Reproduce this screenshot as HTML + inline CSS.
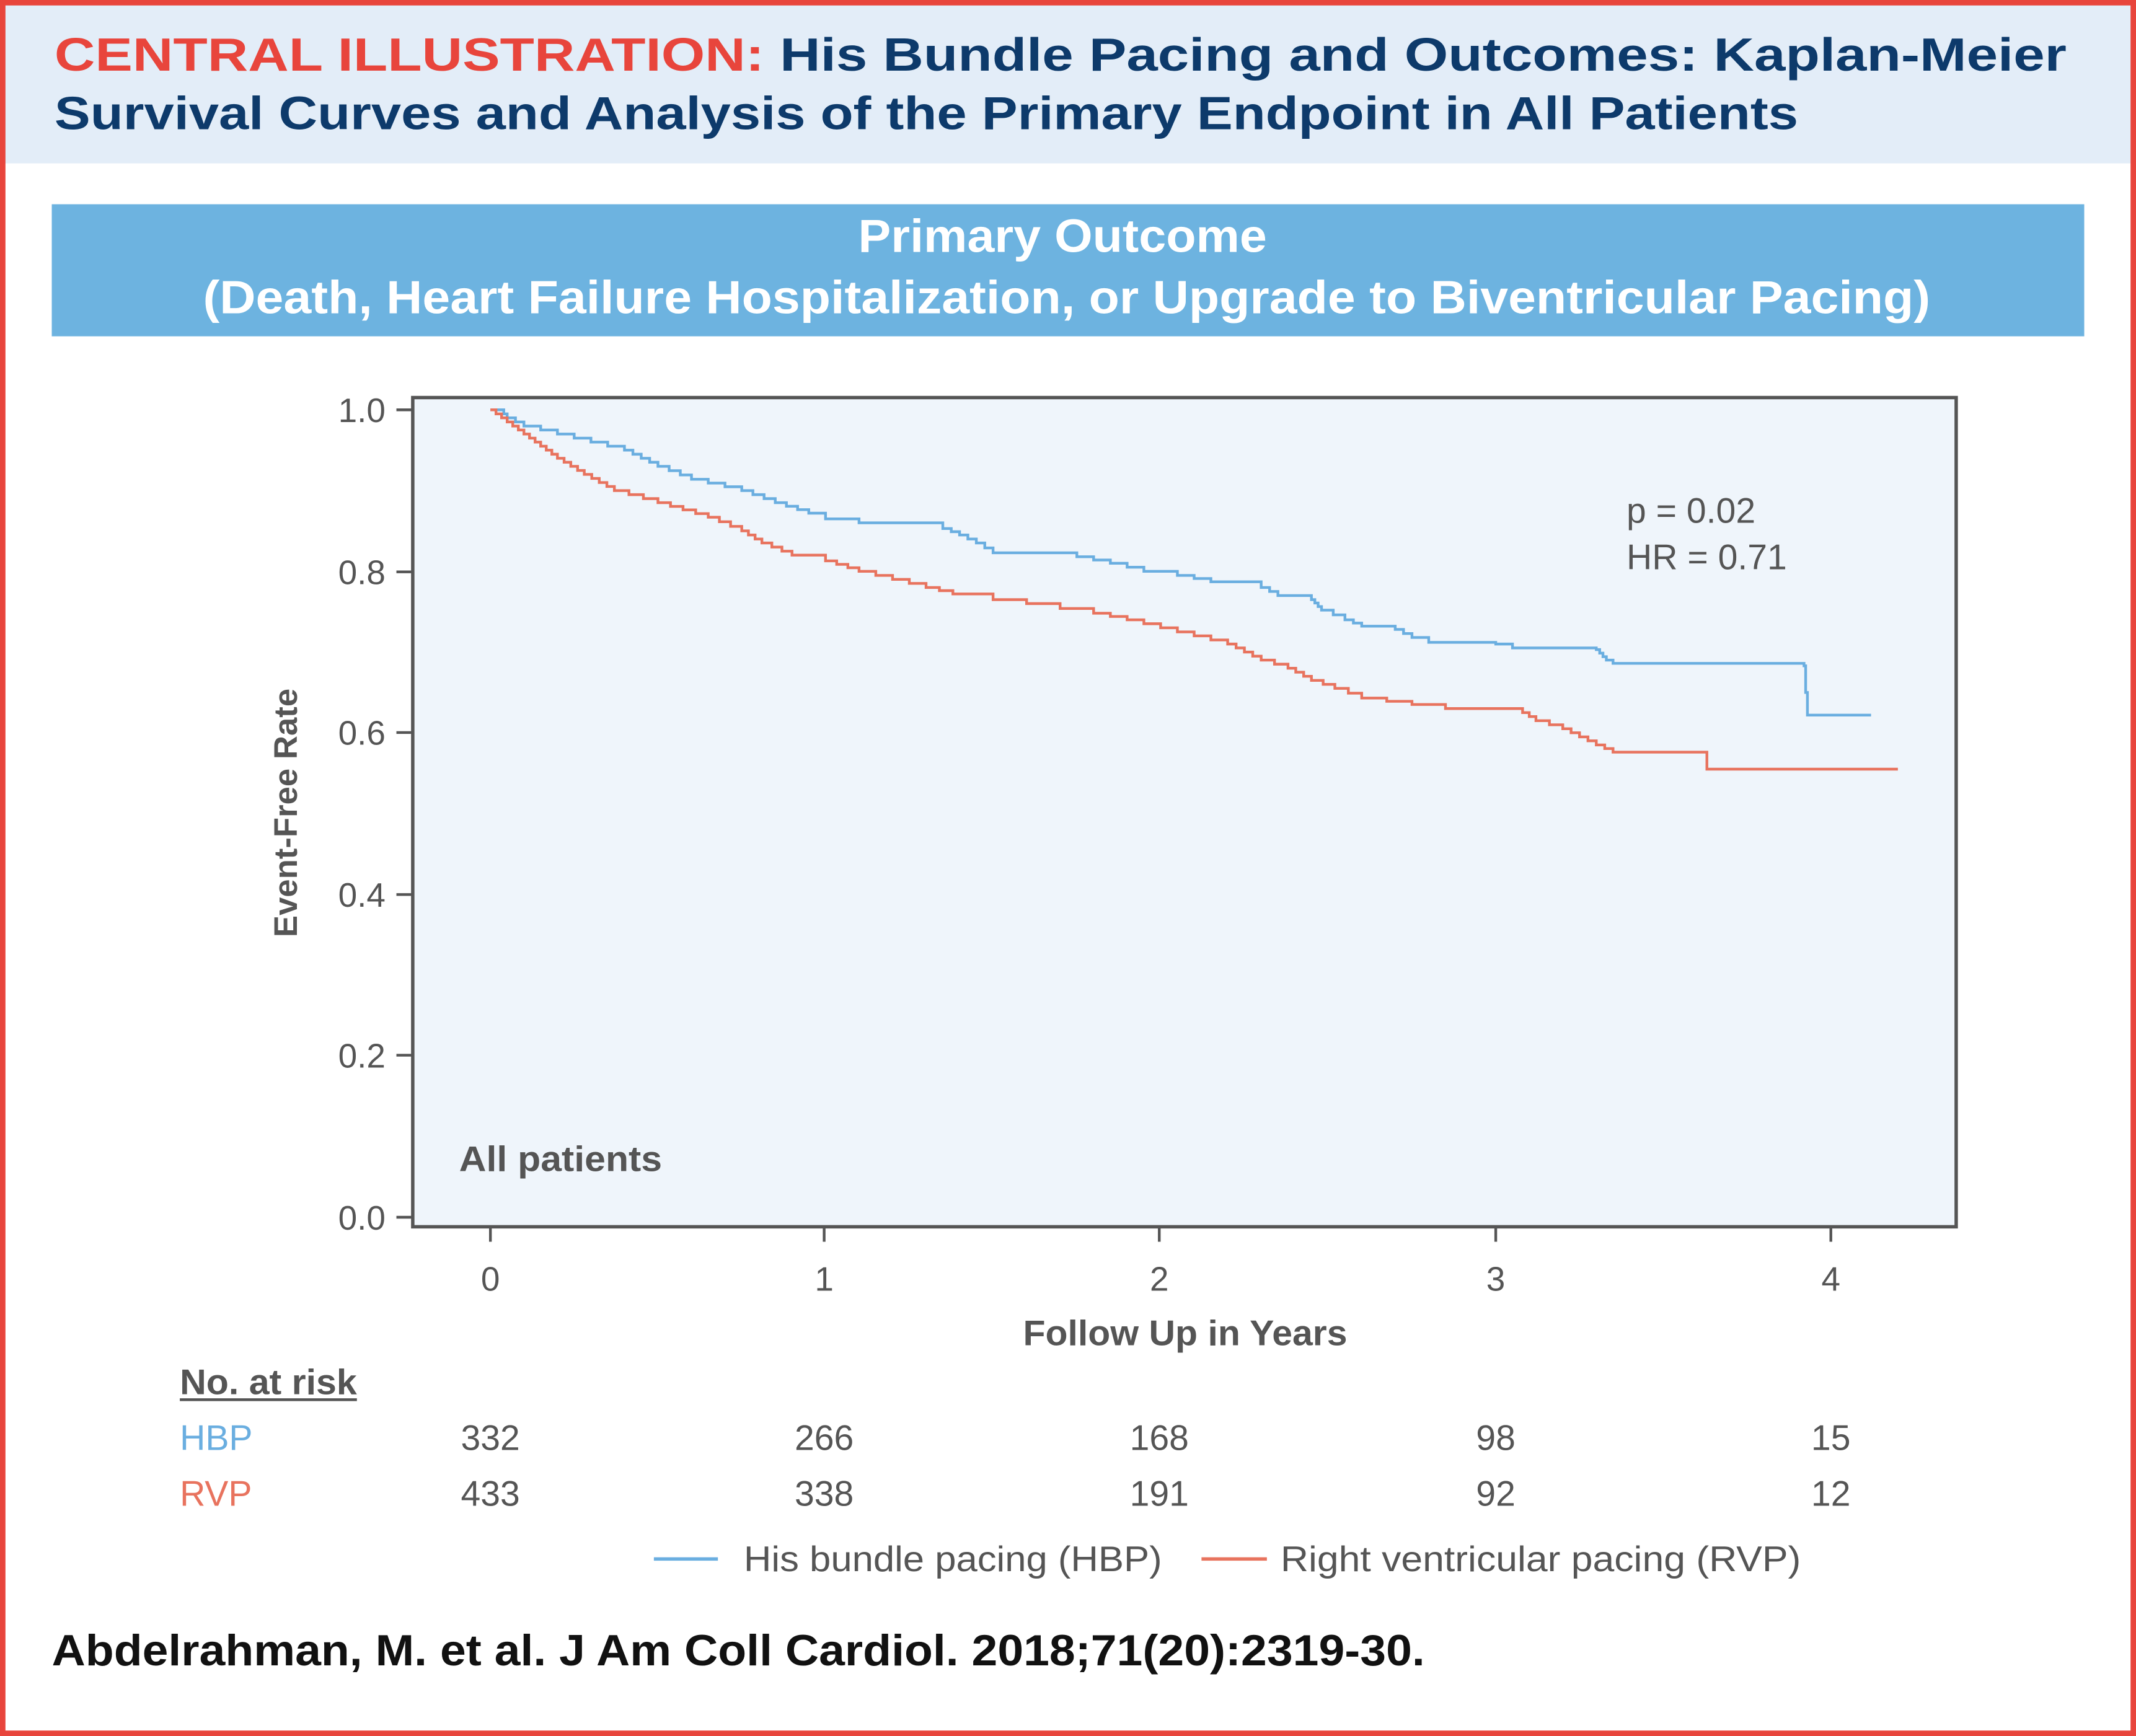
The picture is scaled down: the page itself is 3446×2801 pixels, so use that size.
<!DOCTYPE html>
<html><head><meta charset="utf-8"><style>
html,body{margin:0;padding:0;background:#fff}
svg{display:block}
text{font-family:"Liberation Sans",sans-serif}
</style></head><body>
<svg id="s" width="3446" height="2801" viewBox="0 0 1568 1275" preserveAspectRatio="none" xmlns="http://www.w3.org/2000/svg">
<rect x="0" y="0" width="1568" height="1275" fill="#fff"/>
<rect x="0" y="0" width="1568" height="120" fill="#e3edf8"/>
<rect x="2" y="2" width="1564" height="1271" fill="none" stroke="#e8453c" stroke-width="4"/>
<text x="40" y="52" font-size="34" font-weight="bold" textLength="1477" lengthAdjust="spacingAndGlyphs"><tspan fill="#e8453c">CENTRAL ILLUSTRATION:</tspan><tspan fill="#0d3a6b"> His Bundle Pacing and Outcomes: Kaplan-Meier</tspan></text>
<text x="40" y="95" font-size="34" font-weight="bold" fill="#0d3a6b" textLength="1280" lengthAdjust="spacingAndGlyphs">Survival Curves and Analysis of the Primary Endpoint in All Patients</text>
<rect x="38" y="150" width="1492" height="97" fill="#6db3e0"/>
<text x="780" y="185" font-size="34" font-weight="bold" fill="#fff" text-anchor="middle" textLength="300" lengthAdjust="spacingAndGlyphs">Primary Outcome</text>
<text x="783" y="230" font-size="34" font-weight="bold" fill="#fff" text-anchor="middle" textLength="1268" lengthAdjust="spacingAndGlyphs">(Death, Heart Failure Hospitalization, or  Upgrade to Biventricular Pacing)</text>
<rect x="303" y="292" width="1133" height="609" fill="#eff5fb" stroke="#555" stroke-width="2.5"/>
<g stroke="#555" stroke-width="2">
<line x1="291" y1="301" x2="303" y2="301"/><line x1="291" y1="420" x2="303" y2="420"/><line x1="291" y1="538" x2="303" y2="538"/><line x1="291" y1="657" x2="303" y2="657"/><line x1="291" y1="775" x2="303" y2="775"/><line x1="291" y1="894" x2="303" y2="894"/>
<line x1="360" y1="901" x2="360" y2="912"/><line x1="605" y1="901" x2="605" y2="912"/><line x1="851" y1="901" x2="851" y2="912"/><line x1="1098" y1="901" x2="1098" y2="912"/><line x1="1344" y1="901" x2="1344" y2="912"/>
</g>
<g font-size="25" fill="#555" text-anchor="end">
<text x="283" y="310">1.0</text><text x="283" y="429">0.8</text><text x="283" y="547">0.6</text><text x="283" y="666">0.4</text><text x="283" y="784">0.2</text><text x="283" y="903">0.0</text>
</g>
<g font-size="25" fill="#555" text-anchor="middle">
<text x="360" y="948">0</text><text x="605" y="948">1</text><text x="851" y="948">2</text><text x="1098" y="948">3</text><text x="1344" y="948">4</text>
</g>
<text transform="translate(218,597) rotate(-90)" font-size="24" font-weight="bold" fill="#555" text-anchor="middle">Event-Free Rate</text>
<text x="870" y="988" font-size="26" font-weight="bold" fill="#555" text-anchor="middle" textLength="238" lengthAdjust="spacingAndGlyphs">Follow Up in Years</text>
<text x="1194" y="384" font-size="26" fill="#555">p = 0.02</text>
<text x="1194" y="418" font-size="26" fill="#555">HR = 0.71</text>
<text x="337" y="860" font-size="26" font-weight="bold" fill="#555" textLength="149" lengthAdjust="spacingAndGlyphs">All patients</text>
<path id="hbp" fill="none" stroke="#6aaee0" stroke-width="2"/>
<path id="rvp" fill="none" stroke="#e8735e" stroke-width="2"/>
<text x="132" y="1024" font-size="26" font-weight="bold" fill="#555" textLength="130" lengthAdjust="spacingAndGlyphs">No. at risk</text>
<line x1="132" y1="1028" x2="262" y2="1028" stroke="#555" stroke-width="2"/>
<text x="132" y="1065" font-size="26" fill="#6aaee0">HBP</text>
<text x="132" y="1106" font-size="26" fill="#e8735e">RVP</text>
<g font-size="26" fill="#555" text-anchor="middle">
<text x="360" y="1065">332</text><text x="605" y="1065">266</text><text x="851" y="1065">168</text><text x="1098" y="1065">98</text><text x="1344" y="1065">15</text>
<text x="360" y="1106">433</text><text x="605" y="1106">338</text><text x="851" y="1106">191</text><text x="1098" y="1106">92</text><text x="1344" y="1106">12</text>
</g>
<line x1="480" y1="1145" x2="527" y2="1145" stroke="#6aaee0" stroke-width="2.5"/>
<text x="546" y="1154" font-size="26" fill="#555" textLength="307" lengthAdjust="spacingAndGlyphs">His bundle pacing (HBP)</text>
<line x1="882" y1="1145" x2="930" y2="1145" stroke="#e8735e" stroke-width="2.5"/>
<text x="940" y="1154" font-size="26" fill="#555" textLength="382" lengthAdjust="spacingAndGlyphs">Right ventricular pacing (RVP)</text>
<text x="38" y="1223" font-size="32" font-weight="bold" fill="#111" textLength="1008" lengthAdjust="spacingAndGlyphs">Abdelrahman, M. et al. J Am Coll Cardiol. 2018;71(20):2319-30.</text>
</svg>
<script>
function X(t){return 360+246*t}function Y(s){return 894-593*s}
function build(pts,end){
 var d="M"+X(pts[0][0]).toFixed(1)+" "+Y(pts[0][1]).toFixed(1);
 for(var i=1;i<pts.length;i++){d+=" H"+X(pts[i][0]).toFixed(1)+" V"+Y(pts[i][1]).toFixed(1);}
 d+=" H"+X(end).toFixed(1);return d;}
function fine(pts){var o=[pts[0]];for(var i=1;i<pts.length;i++){var a=pts[i-1],b=pts[i];var n=Math.max(1,Math.round((a[1]-b[1])/0.005));if(b[1]<a[1]-0.03)n=1;for(var k=1;k<=n;k++){o.push([a[0]+(b[0]-a[0])*k/n,a[1]+(b[1]-a[1])*k/n]);}}return o;}
var h=[[0,1],[.03,1],[.05,.99],[.1,.98],[.2,.97],[.3,.96],[.4,.95],[.5,.93],[.6,.914],[.75,.9],[.85,.885],[.95,.872],[1.0,.865],[1.1,.86],[1.35,.853],[1.4,.845],[1.45,.835],[1.5,.823],[1.75,.818],[1.85,.81],[1.95,.8],[2.05,.795],[2.15,.787],[2.3,.78],[2.35,.77],[2.45,.765],[2.48,.752],[2.55,.74],[2.6,.732],[2.7,.728],[2.75,.718],[2.8,.712],[3.0,.71],[3.05,.705],[3.3,.703],[3.33,.69],[3.35,.686],[3.92,.683]];
var hp=fine(h);hp.push([3.925,.65]);hp.push([3.93,.622]);
document.getElementById('hbp').setAttribute('d',build(hp,4.12));
var r=[[0,1],[.05,.985],[.1,.97],[.15,.955],[.2,.94],[.28,.92],[.37,.9],[.5,.885],[.65,.867],[.75,.85],[.81,.835],[.9,.82],[1.0,.813],[1.1,.8],[1.2,.79],[1.3,.78],[1.38,.772],[1.5,.765],[1.6,.76],[1.8,.748],[1.9,.74],[2.0,.73],[2.1,.72],[2.2,.71],[2.25,.7],[2.3,.69],[2.38,.68],[2.45,.665],[2.52,.655],[2.6,.643],[2.75,.635],[2.85,.63],[3.08,.625],[3.12,.615],[3.2,.605],[3.25,.595],[3.3,.585],[3.35,.576]];
var rp=fine(r);rp.push([3.63,.555]);
document.getElementById('rvp').setAttribute('d',build(rp,4.2));
</script>
</body></html>
